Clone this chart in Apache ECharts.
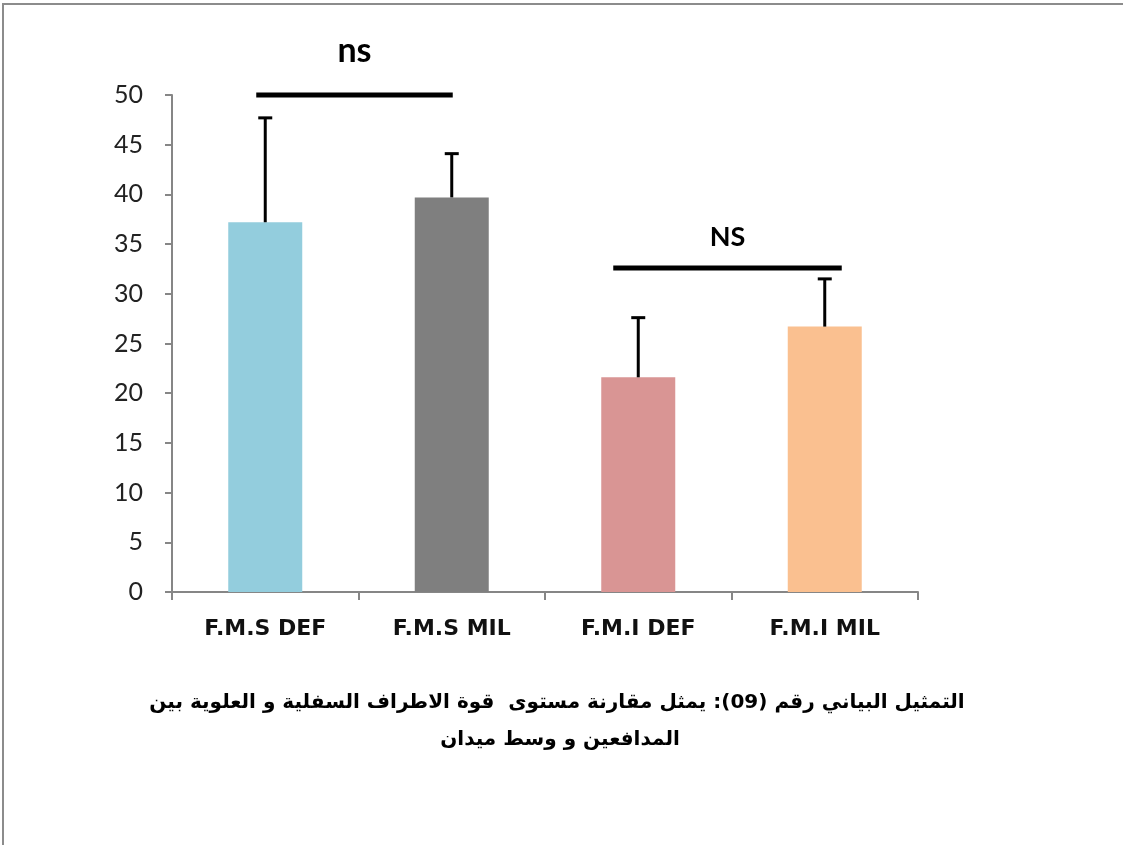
<!DOCTYPE html>
<html>
<head>
<meta charset="utf-8">
<script src="https://cdn.jsdelivr.net/npm/echarts@6/dist/echarts.min.js"></script>
<style>
  html, body { margin: 0; padding: 0; background: #fff; }
  #chart { width: 1123px; height: 845px; }
</style>
</head>
<body>
<div id="chart"></div>
<script>
// Groups and their mean values with the upper standard deviation end
const categories = ['F.M.S DEF', 'F.M.S MIL', 'F.M.I DEF', 'F.M.I MIL'];
const means = [37.2, 39.7, 21.6, 26.7];
const errorTops = [47.7, 44.1, 27.6, 31.5];
const barColors = ['#93CDDD', '#7F7F7F', '#D99594', '#FAC090'];

// Significance brackets: [from category, to category, line value]
const sigFrom = [0, 2];
const sigTo = [1, 3];
const sigValue = [50, 32.6];
const sigText = ['ns', 'NS'];
const sigTextValue = [54.4, 35.7];

const captionLines = [
  'التمثيل البياني رقم (09): يمثل مقارنة مستوى  قوة الاطراف السفلية و العلوية بين',
  'المدافعين و وسط ميدان'
];

const chart = echarts.init(document.getElementById('chart'));

const axisGrey = '#868686';

const errorData = categories.map((c, i) => [i, means[i], errorTops[i]]);
const sigData = sigFrom.map((f, i) => [f, sigTo[i], sigValue[i], sigTextValue[i]]);

chart.setOption({
  animation: false,
  backgroundColor: '#ffffff',
  grid: { left: 172, right: 205, top: 95, bottom: 253, containLabel: false },
  xAxis: {
    type: 'category',
    data: categories,
    axisLine: { lineStyle: { color: axisGrey, width: 2 } },
    axisTick: { show: true, length: 8, lineStyle: { color: axisGrey, width: 2 } },
    axisLabel: {
      margin: 26,
      fontFamily: 'DejaVu Sans',
      fontWeight: 'bold',
      fontSize: 22,
      color: '#111'
    }
  },
  yAxis: {
    type: 'value',
    min: 0,
    max: 50,
    interval: 5,
    splitLine: { show: false },
    axisLine: { show: true, lineStyle: { color: axisGrey, width: 2 } },
    axisTick: { show: true, length: 7, lineStyle: { color: axisGrey, width: 2 } },
    axisLabel: {
      margin: 29,
      fontFamily: 'Lato',
      fontSize: 25,
      color: '#222'
    }
  },
  series: [
    {
      type: 'bar',
      barWidth: 74,
      data: means.map((v, i) => ({ value: v, itemStyle: { color: barColors[i] } })),
      z: 2
    },
    {
      // Upper error whiskers
      type: 'custom',
      z: 3,
      data: errorData,
      renderItem: function (params, api) {
        const top = api.coord([api.value(0), api.value(2)]);
        const base = api.coord([api.value(0), api.value(1)]);
        const cap = 7;
        return {
          type: 'group',
          children: [
            { type: 'line', shape: { x1: top[0], y1: top[1], x2: base[0], y2: base[1] },
              style: { stroke: '#000', lineWidth: 3 } },
            { type: 'line', shape: { x1: top[0] - cap, y1: top[1], x2: top[0] + cap, y2: top[1] },
              style: { stroke: '#000', lineWidth: 3 } }
          ]
        };
      }
    },
    {
      // Significance bars with their labels
      type: 'custom',
      z: 4,
      clip: false,
      data: sigData,
      renderItem: function (params, api) {
        const a = api.coord([api.value(0), api.value(2)]);
        const b = api.coord([api.value(1), api.value(2)]);
        const t = api.coord([api.value(0), api.value(3)]);
        const i = params.dataIndex;
        const x1 = a[0] - (i === 0 ? 9 : 25);
        const x2 = b[0] + (i === 0 ? 1 : 17);
        return {
          type: 'group',
          children: [
            { type: 'line', shape: { x1: x1, y1: a[1], x2: x2, y2: b[1] },
              style: { stroke: '#000', lineWidth: 5 } },
            { type: 'text', x: (x1 + x2) / 2, y: t[1],
              style: { text: sigText[i], fontFamily: 'Lato', fontWeight: 'bold',
                       fontSize: i === 0 ? 34 : 27, fill: '#000', align: 'center', verticalAlign: 'middle' } }
          ]
        };
      }
    }
  ],
  graphic: [
    {
      type: 'rect',
      x: 3, y: 4,
      shape: { width: 1200, height: 900 },
      style: { fill: 'none', stroke: '#8c8c8c', lineWidth: 2 },
      silent: true
    },
    {
      type: 'text',
      x: 557, y: 703,
      style: {
        text: captionLines[0],
        fontFamily: 'DejaVu Sans',
        fontWeight: 'bold',
        fontSize: 20,
        align: 'center',
        verticalAlign: 'middle',
        fill: '#000'
      }
    },
    {
      type: 'text',
      x: 560, y: 740,
      style: {
        text: captionLines[1],
        fontFamily: 'DejaVu Sans',
        fontWeight: 'bold',
        fontSize: 20,
        align: 'center',
        verticalAlign: 'middle',
        fill: '#000'
      }
    }
  ]
});
</script>
</body>
</html>
